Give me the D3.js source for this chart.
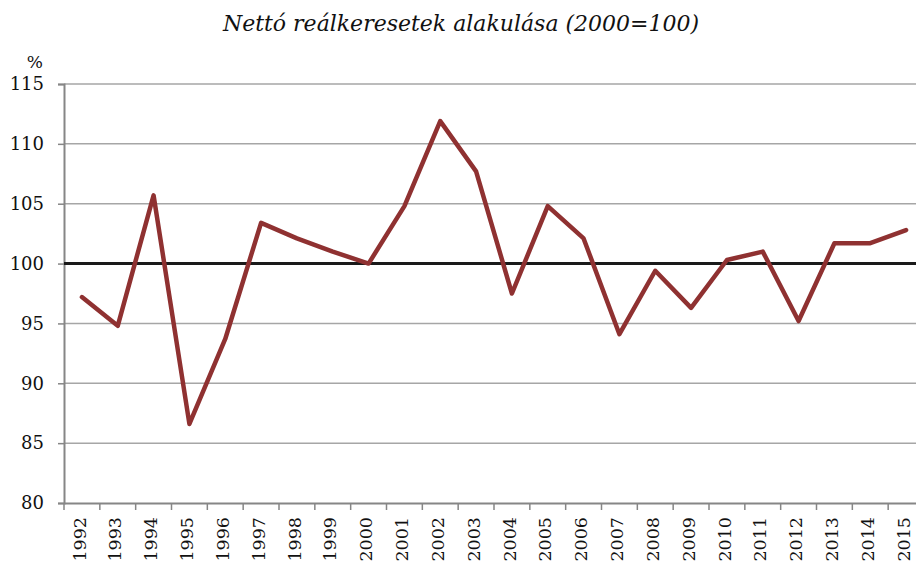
<!DOCTYPE html>
<html>
<head>
<meta charset="utf-8">
<script src="https://cdn.jsdelivr.net/npm/d3@7"></script>
<style>
  html, body { margin: 0; padding: 0; background: #fff; overflow: hidden; }
  svg { display: block; }
  svg text { font-family: 'DejaVu Serif', serif; }
</style>
</head>
<body>
<svg id="chart"></svg>
<script>
const title = "Nettó reálkeresetek alakulása (2000=100)";
const unitLabel = "%";
const years = ["1992", "1993", "1994", "1995", "1996", "1997", "1998", "1999", "2000", "2001", "2002", "2003",
  "2004", "2005", "2006", "2007", "2008", "2009", "2010", "2011", "2012", "2013", "2014", "2015"];
const values = [97.2, 94.8, 105.7, 86.6, 93.7, 103.4, 102.1, 101.0, 100.0, 104.8, 111.9, 107.7,
  97.5, 104.8, 102.1, 94.1, 99.4, 96.3, 100.3, 101.0, 95.2, 101.7, 101.7, 102.8];
const yTicks = [80, 85, 90, 95, 100, 105, 110, 115];
const baseline = 100;

const width = 916;
const height = 563;
const margin = { top: 84, right: -8, bottom: 60, left: 64 };

const svg = d3.select("#chart").attr("width", width).attr("height", height);

const xScale = d3
  .scaleBand()
  .domain(years)
  .range([margin.left, width - margin.right])
  .paddingInner(0)
  .paddingOuter(0);

const yScale = d3
  .scaleLinear()
  .domain([80, 115])
  .range([height - margin.bottom, margin.top]);

// gridlines
svg
  .append("g")
  .selectAll("line")
  .data(yTicks.filter(d => d !== 80 && d !== baseline))
  .join("line")
  .attr("x1", margin.left)
  .attr("x2", width - margin.right)
  .attr("y1", d => yScale(d))
  .attr("y2", d => yScale(d))
  .attr("stroke", "#a6a6a6")
  .attr("stroke-width", 1.5);

// y axis
const yAxis = d3.axisLeft(yScale).tickValues(yTicks).tickSize(6).tickPadding(14);
const gy = svg
  .append("g")
  .attr("transform", `translate(${margin.left},0)`)
  .call(yAxis);
gy.attr("font-family", null).attr("font-size", null);
gy.select(".domain").attr("stroke", "#868686").attr("stroke-width", 2);
gy.selectAll(".tick line").attr("stroke", "#868686").attr("stroke-width", 1.5);
gy.selectAll(".tick text")
  .attr("font-size", 18)
  .attr("fill", "#111");

// x axis
const xAxis = d3.axisBottom(xScale).tickSize(0).tickPadding(0);
const gx = svg
  .append("g")
  .attr("transform", `translate(0,${yScale(80)})`)
  .call(xAxis);
gx.attr("font-family", null).attr("font-size", null);
gx.select(".domain").attr("stroke", "#868686").attr("stroke-width", 2);
gx.selectAll(".tick text")
  .attr("font-size", 17.5)
  .attr("fill", "#111")
  .attr("text-anchor", "end")
  .attr("dy", "0.32em")
  .attr("transform", "translate(-2,14) rotate(-90)")
  .attr("x", 0)
  .attr("y", 0);

// boundary ticks between categories
svg
  .append("g")
  .selectAll("line")
  .data(years)
  .join("line")
  .attr("x1", d => xScale(d))
  .attr("x2", d => xScale(d))
  .attr("y1", yScale(80))
  .attr("y2", yScale(80) + 7)
  .attr("stroke", "#868686")
  .attr("stroke-width", 1.5);

// 100 reference line
svg
  .append("line")
  .attr("x1", margin.left)
  .attr("x2", width - margin.right)
  .attr("y1", yScale(baseline))
  .attr("y2", yScale(baseline))
  .attr("stroke", "#1a1a1a")
  .attr("stroke-width", 3);

// data line
const line = d3
  .line()
  .x((d, i) => xScale(years[i]) + xScale.bandwidth() / 2)
  .y(d => yScale(d));

svg
  .append("path")
  .datum(values)
  .attr("d", line)
  .attr("fill", "none")
  .attr("stroke", "#8f3131")
  .attr("stroke-width", 4.5)
  .attr("stroke-linejoin", "round")
  .attr("stroke-linecap", "round");

// unit label
svg
  .append("text")
  .attr("x", 43)
  .attr("y", 68)
  .attr("text-anchor", "end")
  .attr("font-size", 17)
  .attr("fill", "#111")
  .text(unitLabel);

// title
svg
  .append("text")
  .attr("x", 461)
  .attr("y", 31)
  .attr("text-anchor", "middle")
  .attr("font-size", 22)
  .attr("font-style", "italic")
  .attr("fill", "#111")
  .text(title);
</script>
</body>
</html>
